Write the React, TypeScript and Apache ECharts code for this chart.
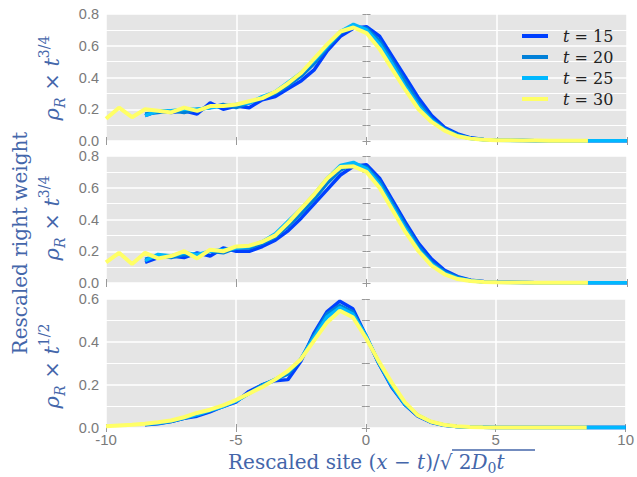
import React, { useEffect, useRef } from "react";
import * as echarts from "echarts";

const X_T30 = [-10, -9.5, -9, -8.5, -8, -7.5, -7, -6.5, -6, -5.5, -5, -4.5, -4, -3.5, -3, -2.5, -2, -1.5, -1, -0.5, 0, 0.5, 1, 1.5, 2, 2.5, 3, 3.5, 4, 4.5, 5, 5.5, 6, 6.5, 7, 7.5, 8, 8.5];
const X_REST = [-8.5, -8, -7.5, -7, -6.5, -6, -5.5, -5, -4.5, -4, -3.5, -3, -2.5, -2, -1.5, -1, -0.5, 0, 0.5, 1, 1.5, 2, 2.5, 3, 3.5, 4, 4.5, 5, 5.5, 6, 6.5, 7, 7.5, 8, 8.5, 9, 9.5, 10];

const SERIES_NAMES = ["t=15", "t=20", "t=25", "t=30"];
const COLORS = ["#0040ff", "#0080d8", "#00b8ff", "#ffff66"];

// Panel 1: rho_R x t^{3/4}
const P1_T15 = [0.16, 0.19, 0.18, 0.19, 0.17, 0.24, 0.20, 0.22, 0.21, 0.26, 0.28, 0.33, 0.38, 0.45, 0.57, 0.66, 0.71, 0.72, 0.66, 0.53, 0.40, 0.27, 0.16, 0.085, 0.045, 0.02, 0.01, 0.006, 0.004, 0.003, 0.002, 0.002, 0.002, 0.002, 0.002, 0.002, 0.002, 0.002];
const P1_T20 = [0.17, 0.18, 0.19, 0.18, 0.20, 0.21, 0.23, 0.21, 0.24, 0.27, 0.30, 0.35, 0.41, 0.49, 0.59, 0.68, 0.72, 0.71, 0.63, 0.50, 0.37, 0.24, 0.14, 0.075, 0.038, 0.018, 0.009, 0.005, 0.004, 0.003, 0.002, 0.002, 0.002, 0.002, 0.002, 0.002, 0.002, 0.002];
const P1_T25 = [0.16, 0.19, 0.19, 0.20, 0.20, 0.21, 0.22, 0.23, 0.24, 0.28, 0.31, 0.37, 0.43, 0.51, 0.60, 0.69, 0.735, 0.70, 0.61, 0.48, 0.34, 0.22, 0.13, 0.07, 0.033, 0.016, 0.008, 0.005, 0.003, 0.003, 0.002, 0.002, 0.002, 0.002, 0.002, 0.002, 0.002, 0.002];
const P1_T30 = [0.14, 0.21, 0.15, 0.20, 0.19, 0.18, 0.21, 0.19, 0.22, 0.22, 0.23, 0.25, 0.27, 0.31, 0.365, 0.43, 0.52, 0.61, 0.69, 0.715, 0.68, 0.58, 0.45, 0.32, 0.20, 0.12, 0.065, 0.03, 0.015, 0.008, 0.005, 0.004, 0.003, 0.003, 0.002, 0.002, 0.002, 0.002];

// Panel 2: rho_R x t^{3/4}
const P2_T15 = [0.13, 0.16, 0.17, 0.16, 0.19, 0.17, 0.22, 0.20, 0.20, 0.23, 0.27, 0.33, 0.41, 0.50, 0.59, 0.68, 0.735, 0.745, 0.66, 0.52, 0.38, 0.25, 0.15, 0.08, 0.04, 0.018, 0.009, 0.005, 0.004, 0.003, 0.002, 0.002, 0.002, 0.002, 0.002, 0.002, 0.002, 0.002];
const P2_T20 = [0.15, 0.17, 0.16, 0.18, 0.17, 0.20, 0.19, 0.22, 0.22, 0.25, 0.29, 0.36, 0.44, 0.53, 0.63, 0.71, 0.75, 0.73, 0.64, 0.50, 0.36, 0.23, 0.13, 0.07, 0.035, 0.016, 0.008, 0.005, 0.004, 0.003, 0.002, 0.002, 0.002, 0.002, 0.002, 0.002, 0.002, 0.002];
const P2_T25 = [0.14, 0.18, 0.17, 0.19, 0.18, 0.20, 0.21, 0.22, 0.23, 0.26, 0.31, 0.39, 0.47, 0.56, 0.66, 0.74, 0.76, 0.72, 0.62, 0.48, 0.34, 0.21, 0.12, 0.06, 0.03, 0.014, 0.007, 0.004, 0.003, 0.003, 0.002, 0.002, 0.002, 0.002, 0.002, 0.002, 0.002, 0.002];
const P2_T30 = [0.13, 0.19, 0.12, 0.19, 0.155, 0.17, 0.20, 0.155, 0.21, 0.20, 0.23, 0.235, 0.26, 0.30, 0.38, 0.47, 0.56, 0.66, 0.73, 0.735, 0.70, 0.60, 0.46, 0.32, 0.20, 0.11, 0.055, 0.025, 0.012, 0.006, 0.004, 0.003, 0.003, 0.002, 0.002, 0.002, 0.002, 0.002];

// Panel 3: rho_R x t^{1/2}
const P3_T15 = [0.015, 0.02, 0.03, 0.045, 0.055, 0.075, 0.10, 0.12, 0.17, 0.20, 0.22, 0.225, 0.31, 0.44, 0.54, 0.59, 0.555, 0.43, 0.30, 0.19, 0.11, 0.055, 0.027, 0.013, 0.007, 0.004, 0.003, 0.002, 0.002, 0.002, 0.002, 0.002, 0.002, 0.002, 0.002, 0.002, 0.002, 0.002];
const P3_T20 = [0.016, 0.022, 0.03, 0.045, 0.06, 0.08, 0.10, 0.125, 0.16, 0.20, 0.225, 0.25, 0.32, 0.43, 0.53, 0.57, 0.54, 0.43, 0.30, 0.195, 0.11, 0.058, 0.028, 0.014, 0.007, 0.004, 0.003, 0.002, 0.002, 0.002, 0.002, 0.002, 0.002, 0.002, 0.002, 0.002, 0.002, 0.002];
const P3_T25 = [0.017, 0.023, 0.033, 0.047, 0.062, 0.082, 0.10, 0.125, 0.16, 0.195, 0.225, 0.26, 0.32, 0.42, 0.515, 0.56, 0.53, 0.43, 0.305, 0.197, 0.113, 0.06, 0.029, 0.014, 0.007, 0.004, 0.003, 0.002, 0.002, 0.002, 0.002, 0.002, 0.002, 0.002, 0.002, 0.002, 0.002, 0.002];
const P3_T30 = [0.008, 0.012, 0.015, 0.02, 0.027, 0.035, 0.05, 0.07, 0.085, 0.105, 0.13, 0.16, 0.19, 0.225, 0.265, 0.32, 0.405, 0.49, 0.545, 0.515, 0.42, 0.31, 0.21, 0.12, 0.06, 0.03, 0.015, 0.008, 0.005, 0.003, 0.002, 0.002, 0.002, 0.002, 0.002, 0.002, 0.002, 0.002];

const PANELS = [
  [P1_T15, P1_T20, P1_T25, P1_T30],
  [P2_T15, P2_T20, P2_T25, P2_T30],
  [P3_T15, P3_T20, P3_T25, P3_T30],
];
const Y_MAX = [0.8, 0.8, 0.6];
const Y_EXP = ["3/4", "3/4", "1/2"];

const LABEL_COLOR = "#4466aa";
const TICK_COLOR = "#999999";
const TICK_LABEL_COLOR = "#7a7a7a";
const SERIF = "DejaVu Serif";

export default function App() {
  const ref = useRef<HTMLDivElement>(null);
  useEffect(() => {
    document.body.style.margin = "0";
    const chart = echarts.init(ref.current!, null, { renderer: "svg" });

    const grids = [
      { left: 106, right: 10, top: 14, height: 127 },
      { left: 106, right: 10, top: 156, height: 127 },
      { left: 106, right: 10, top: 299, height: 129 },
    ].map((g) => ({ ...g, show: true, backgroundColor: "#e5e5e5", borderWidth: 0 }));

    const xAxes: any[] = [];
    const yAxes: any[] = [];
    grids.forEach((_, gi) => {
      const base = {
        type: "value",
        gridIndex: gi,
        min: -10,
        max: 10,
        interval: 5,
        axisLine: { show: false },
        axisTick: { show: true, length: 4, lineStyle: { color: TICK_COLOR, width: 1 } },
      };
      xAxes.push({
        ...base,
        position: "bottom",
        axisLabel: {
          show: gi === 2,
          color: TICK_LABEL_COLOR,
          fontSize: 15,
          lineHeight: 14,
          fontFamily: "Liberation Sans, Arial, sans-serif",
          margin: 4,
        },
        splitLine: { show: true, lineStyle: { color: "#ffffff", width: 1.5 } },
      });
      xAxes.push({
        ...base,
        position: "top",
        axisLabel: { show: false },
        splitLine: { show: false },
      });
      const yBase = {
        type: "value",
        gridIndex: gi,
        min: 0,
        max: Y_MAX[gi],
        interval: 0.2,
        axisLine: { show: false },
        axisTick: { show: true, length: 4, lineStyle: { color: TICK_COLOR, width: 1 } },
        minorTick: { show: true, splitNumber: 2, length: 4, lineStyle: { color: TICK_COLOR, width: 1 } },
      };
      yAxes.push({
        ...yBase,
        position: "left",
        axisLabel: {
          color: TICK_LABEL_COLOR,
          fontSize: 14.5,
          lineHeight: 12,
          fontFamily: "Liberation Sans, Arial, sans-serif",
          margin: 7,
          formatter: (v: number) => v.toFixed(1),
        },
        splitLine: { show: true, lineStyle: { color: "#ffffff", width: 1.5 } },
        minorSplitLine: { show: true, lineStyle: { color: "#ffffff", width: 1 } },
      });
      yAxes.push({
        ...yBase,
        position: "right",
        axisLabel: { show: false },
        splitLine: { show: false },
      });
    });

    const series: any[] = [];
    PANELS.forEach((panel, gi) => {
      panel.forEach((vals, si) => {
        const xs = si === 3 ? X_T30 : X_REST;
        series.push({
          type: "line",
          name: SERIES_NAMES[si],
          xAxisIndex: gi * 2,
          yAxisIndex: gi * 2,
          data: xs.map((x, i) => [x, vals[i]]),
          showSymbol: false,
          symbol: "none",
          color: COLORS[si],
          lineStyle: { color: COLORS[si], width: si === 3 ? 4 : 3.5 },
          z: 2 + si,
        });
      });
    });

    const mkRich = (fs: number, lh: number) => ({
      i: { fontFamily: SERIF, fontStyle: "italic", fontSize: fs, lineHeight: lh, fill: LABEL_COLOR, color: LABEL_COLOR },
      n: { fontFamily: SERIF, fontSize: fs, lineHeight: lh, fill: LABEL_COLOR, color: LABEL_COLOR },
      sub: { fontFamily: SERIF, fontStyle: "italic", fontSize: 14, lineHeight: 14, verticalAlign: "bottom", fill: LABEL_COLOR, color: LABEL_COLOR },
      subn: { fontFamily: SERIF, fontSize: 14, lineHeight: 14, verticalAlign: "bottom", fill: LABEL_COLOR, color: LABEL_COLOR },
      sup: { fontFamily: SERIF, fontSize: 14, lineHeight: 14, verticalAlign: "top", fill: LABEL_COLOR, color: LABEL_COLOR },
    });

    const yLabelCenters = [78, 218, 366];
    const graphic: any[] = yLabelCenters.map((cy, gi) => ({
      type: "text",
      x: 52,
      y: cy,
      rotation: Math.PI / 2,
      style: {
        text: `{i|ρ}{sub|R}{n| × }{i|t}{sup|${Y_EXP[gi]}}`,
        rich: mkRich(21, 30),
        align: "center",
        verticalAlign: "middle",
        fill: LABEL_COLOR,
      },
    }));
    graphic.push({
      type: "text",
      x: 20,
      y: 243,
      rotation: Math.PI / 2,
      style: {
        text: "Rescaled right weight",
        font: `20px '${SERIF}'`,
        fill: LABEL_COLOR,
        align: "center",
        verticalAlign: "middle",
      },
    });
    graphic.push({
      type: "text",
      x: 228,
      y: 462,
      style: {
        text: "{n|Rescaled site (}{i|x}{n| − }{i|t}{n|)/√ 2}{i|D}{subn|0}{i|t}",
        rich: mkRich(20, 26),
        align: "left",
        verticalAlign: "middle",
        fill: LABEL_COLOR,
      },
    });
    graphic.push({
      type: "line",
      shape: { x1: 452, y1: 450, x2: 535, y2: 450 },
      style: { stroke: LABEL_COLOR, lineWidth: 1.5 },
    });

    chart.setOption({
      animation: false,
      grid: grids,
      xAxis: xAxes,
      yAxis: yAxes,
      series,
      graphic,
      legend: {
        data: SERIES_NAMES,
        orient: "vertical",
        left: 517,
        top: 21,
        itemWidth: 26,
        itemHeight: 4,
        itemGap: 1,
        icon: "rect",
        formatter: (name: string) => `{i|t} = ${name.slice(2)}`,
        textStyle: {
          fontFamily: SERIF,
          fontSize: 16,
          lineHeight: 20,
          color: "#222222",
          padding: [0, 0, 0, 10],
          rich: { i: { fontFamily: SERIF, fontStyle: "italic", fontSize: 16, color: "#222222" } },
        },
      },
    });
    return () => chart.dispose();
  }, []);
  return <div ref={ref} style={{ width: 637, height: 477 }} />;
}
